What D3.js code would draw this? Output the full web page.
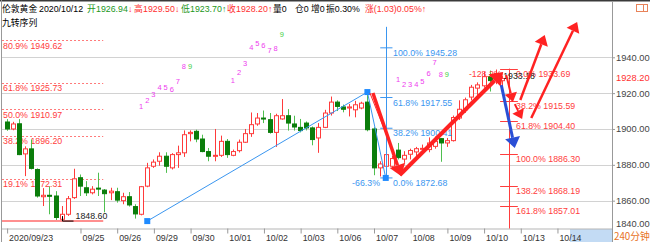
<!DOCTYPE html>
<html>
<head>
<meta charset="utf-8">
<script src="https://cdnjs.cloudflare.com/ajax/libs/d3/7.8.5/d3.min.js"></script>
<style>
body { margin: 0; background: #fff; }
svg text { font-family: "Liberation Sans", Arial, "Noto Sans CJK SC", sans-serif; }
</style>
</head>
<body>
<div id="chart"></div>
<script>
// 240 minute candles, index 0 = 2020/09/23
var opens  = [1903.9,1900,1902.9,1886.1,1888.9,1877.4,1862.2,1863,1862.6,1849.6,1852.4,1861.7,1872.8,1867.2,1864.4,1867,1865.9,1864.4,1865,1860,
              1862.2,1856.7,1852.4,1868.1,1879.2,1882,1884.8,1878.3,1885.7,1886.7,1897.4,1898.7,1894.4,1887.4,1885,1885.3,1893.1,1885.3,1887.9,1892.6,
              1897.4,1902.8,1906.1,1905.2,1898.1,1905.6,1907.4,1902.8,1900.9,1903.3,1900.6,1895,1900.9,1908.9,1915,1912.3,1911.7,1910.7,1911.7,1915,
              1900,1878.3,1879.2,1879.2,1888.2,1883.2,1885.9,1887.2,1888.7,1888.5,1890.3,1894.6,1892.2,1893.5,1906.1,1910.7,1917.8,1922.8,1924.1,1929.2,
              1927.5,1926.94];
var highs  = [1905.5,1904,1905.5,1890.3,1894.1,1878,1867,1868,1865.3,1857,1862.6,1877.8,1874.6,1870.9,1868.1,1875.6,1866.5,1867.2,1867.2,1864.4,
              1864.8,1858,1868.2,1881.1,1883,1887,1887,1886.5,1890.7,1899.2,1899.2,1899.6,1896.8,1889.4,1900,1896.3,1894.4,1888.5,1894.1,1900,
              1909.2,1908.9,1910.3,1908.9,1908.5,1916.7,1911.1,1907.4,1905.6,1904.2,1901.4,1903.3,1910.7,1918.1,1916,1913.6,1914,1915.7,1915.2,1920.6,
              1901,1882,1887,1885,1892.2,1887.6,1889,1890,1891.3,1895.3,1895.8,1895,1895,1907.5,1916,1917.5,1924.6,1926,1932,1932.6,
              1933.18,1929.5];
var lows   = [1899,1899.3,1885.4,1873.7,1877.4,1861.7,1857,1852.4,1849.2,1848.6,1851.5,1861,1862.6,1862.6,1863.5,1862.6,1853.5,1860.3,1858.9,1858,
              1856.7,1850,1851.8,1867.5,1878.3,1879.5,1875.5,1877.4,1878.3,1884.4,1893.1,1892.6,1887,1882,1882,1884.4,1883.9,1884.8,1886.9,1892.2,
              1895.6,1901.8,1903.3,1897.4,1890,1905.2,1899.1,1899.1,1898.1,1899.2,1890.9,1886.7,1900.5,1907.5,1910,1909.3,1907,1906.5,1911,1898.7,
              1874.2,1873.5,1872.68,1878,1883,1881.1,1883,1885,1885.7,1887,1889,1881.7,1890,1893,1905,1909,1916,1919,1923,1920.9,
              1925,1923.7];
var closes = [1900,1902.8,1885.7,1888.9,1878,1862.6,1863,1862.5,1850.6,1852.4,1861.1,1872.2,1868.1,1864.4,1866.4,1866.7,1863.9,1865.3,1860.3,1862.2,
              1857.6,1852.6,1867.8,1878.3,1881.5,1884.8,1879.2,1885.7,1886.7,1896.8,1898.1,1894.4,1887.4,1884.8,1885.3,1893.1,1885.7,1887.4,1892.6,1897.4,
              1902.4,1906.1,1905.6,1898.1,1907.4,1907.4,1903.3,1901.1,1899.1,1900.6,1894.1,1900.9,1908.9,1915,1912.6,1911,1912.3,1913.5,1914.4,1899.6,
              1878.3,1880.5,1885.7,1883.5,1884,1885.3,1888,1889,1889.2,1892.2,1893.1,1892.2,1893.5,1906.4,1911,1916.3,1923.3,1924.6,1929.2,1927,
              1931,1928.2];

var dateIdx    = [0,12,18,24,30,36,42,48,54,60,66,72,78,84,90];
var dateLabels = ["2020/09/23","09/25","09/26","09/29","09/30","10/01","10/02","10/03","10/06","10/07","10/08","10/09","10/10","10/13","10/14"];
var priceTicks = [1840,1860,1880,1900,1920,1940];

// fibonacci drawings
var leftFibPct  = ["19.1%","38.2%","50.0%","61.8%","80.9%"];
var leftFibVal  = [1872.31,1896.20,1910.97,1925.73,1949.62];
var leftFibLow  = 1848.60;
var blueFibPct  = ["100.0%","61.8%","38.2%","0.0%"];
var blueFibVal  = [1945.28,1917.55,1900.41,1872.68];
var redFibPct   = ["0.0%","38.2%","61.8%","100.0%","138.2%","161.8%"];
var redFibVal   = [1933.69,1915.59,1904.40,1886.30,1868.19,1857.01];
var markHigh    = 1933.18;

// TD sequential (九转序列): first candle index and level of each number
var tdStart  = [22, 37, 64];
var tdLevels = [[1912.8,1916,1919.4,1923.3,1923.3,1922.1,1926.4,1935.1,1934.8],
                [1927.4,1931.6,1936.4,1945.6,1947.8,1946.9,1944.1,1945,1953],
                [1927.9,1924.9,1924.9,1924.9,1926.4,1931.1,1937.2,1930.7,1930.7]];

// trend line anchors [candle index, price]
var blueSquares = [[23,1848.6],[59,1920.6],[62,1872.68]];
var redArrows = [
  {from:[59.9,1920.1], to:[64.5,1873.8], w:3.5},
  {from:[64.3,1874.3], to:[81.2,1931.8], w:4},
  {from:[81.7,1930.1], to:[82.8,1915.1], w:2},
  {from:[83.1,1913.9], to:[84.3,1905.6], w:2},
  {from:[84.0,1916.2], to:[88.0,1952.4], w:2.5},
  {from:[85.8,1906.1], to:[93.3,1959.7], w:2.5}
];
var blueArrow = {from:[80.9,1924.5], to:[83.1,1889.4], w:3};

var width = 650, height = 242;
var plotRight = 612, plotBottom = 228.5;
var fs = "8.8px";

var svg = d3.select("#chart").append("svg")
  .attr("width", width)
  .attr("height", height);

var x = d3.scaleLinear().domain([-1, 99]).range([0.5, plotRight]);
var y = d3.scaleLinear().domain([1840, 1940]).range([236.5, 57.3]);

var upColor = "#ff3b3b", downColor = "#0b7d0b", downWick = "#4fbf4f";
var fibRed = "#ff3d3d", fibBlue = "#3a96f0";

// frame
svg.append("rect").attr("x", 0).attr("y", 0).attr("width", width).attr("height", 1.5).attr("fill", "#3a3a3a");
svg.append("line").attr("x1", 1.5).attr("x2", 1.5).attr("y1", 0).attr("y2", height).attr("stroke", "#999");
svg.append("line").attr("x1", plotRight + 0.5).attr("x2", plotRight + 0.5).attr("y1", 1.5).attr("y2", height).attr("stroke", "#999");

// grid
svg.append("g").selectAll("line")
  .data(priceTicks.filter(function (d) { return y(d) < plotBottom; }))
  .enter().append("line")
  .attr("x1", 2).attr("x2", plotRight)
  .attr("y1", function (d) { return Math.round(y(d)) + 0.5; })
  .attr("y2", function (d) { return Math.round(y(d)) + 0.5; })
  .attr("stroke", "#d2d2d2");

// right price axis
var yAxis = d3.axisRight(y).tickValues(priceTicks).tickFormat(d3.format(".2f")).tickSize(3);
var yg = svg.append("g").attr("transform", "translate(" + plotRight + ",0)").call(yAxis);
yg.select(".domain").remove();
yg.selectAll("line").attr("stroke", "#999");
yg.selectAll("text").attr("x", 4).attr("fill", "#444").style("font-size", "9.3px");
yg.selectAll(".tick").filter(function (d) { return y(d) > plotBottom; })
  .attr("transform", "translate(0," + (plotBottom - 4) + ")")
  .select("line").remove();
svg.append("text")
  .attr("x", plotRight + 4).attr("y", y(closes[closes.length - 1])).attr("dy", "0.32em")
  .attr("fill", "#ff3030").style("font-size", "9.3px")
  .text(d3.format(".2f")(closes[closes.length - 1]));

// bottom date axis
svg.append("rect").attr("x", 570).attr("y", plotBottom + 0.5).attr("width", plotRight - 570).attr("height", height - plotBottom)
  .attr("fill", "#c3dbf4");
var xAxis = d3.axisBottom(x).tickValues(dateIdx).tickFormat(function (d, i) { return dateLabels[i]; }).tickSize(5);
var xg = svg.append("g").attr("transform", "translate(0," + plotBottom + ")").call(xAxis);
xg.select(".domain").attr("d", "M2,0.5H" + plotRight).attr("stroke", "#b5b5b5");
xg.selectAll("line").attr("stroke", "#999").attr("transform", "translate(0.5,0)");
xg.selectAll("text").attr("text-anchor", "start").attr("x", 2).attr("y", 6).attr("fill", "#333").style("font-size", fs);
svg.append("text").attr("x", 614).attr("y", 240).attr("fill", "#e8731e").style("font-size", "9.8px")
  .style("font-family", "'Noto Sans CJK SC', sans-serif").text("240分钟");

// left fibonacci
var lf = svg.append("g");
lf.selectAll("line").data(leftFibVal).enter().append("line")
  .attr("x1", x(-0.75)).attr("x2", x(15.8))
  .attr("y1", function (d) { return Math.round(y(d)) + 0.5; })
  .attr("y2", function (d) { return Math.round(y(d)) + 0.5; })
  .attr("stroke", "#ff7a7a").attr("stroke-dasharray", "2,2");
lf.selectAll("text").data(leftFibVal).enter().append("text")
  .attr("x", 3).attr("y", function (d) { return y(d) + 8.5; })
  .attr("fill", fibRed).style("font-size", fs)
  .text(function (d, i) { return leftFibPct[i] + " " + d3.format(".2f")(d); });
lf.append("line").attr("x1", x(-0.75)).attr("x2", x(15.8)).attr("y1", y(leftFibLow)).attr("y2", y(leftFibLow))
  .attr("stroke", "#ff8f8f").attr("stroke-width", 2);

// candles
var candles = svg.append("g");
d3.range(opens.length).forEach(function (i) {
  var up = closes[i] >= opens[i];
  var cx = Math.round(x(i)) + 0.5;
  candles.append("line")
    .attr("x1", cx).attr("x2", cx)
    .attr("y1", y(highs[i])).attr("y2", y(lows[i]))
    .attr("stroke", up ? upColor : downWick);
  var top = y(Math.max(opens[i], closes[i])), bot = y(Math.min(opens[i], closes[i]));
  candles.append("rect")
    .attr("x", cx - 2).attr("y", top)
    .attr("width", 4).attr("height", Math.max(1, bot - top))
    .attr("fill", up ? "#fff" : downColor)
    .attr("stroke", up ? upColor : downColor);
});

// low / high markers
var lowI = lows.indexOf(d3.min(lows.slice(0, 30)));
var lx = Math.round(x(lowI)) + 0.5;
svg.append("path").attr("d", "M" + lx + "," + (y(leftFibLow) - 5) + "V" + y(leftFibLow) + "H" + (lx + 11))
  .attr("fill", "none").attr("stroke", "#000");
svg.append("text").attr("x", lx + 13).attr("y", y(leftFibLow) - 2).attr("fill", "#222").style("font-size", fs)
  .text(d3.format(".2f")(leftFibLow));

// blue trend lines + fibonacci
var bf = svg.append("g");
bf.append("line")
  .attr("x1", x(blueSquares[0][0])).attr("y1", y(blueSquares[0][1]))
  .attr("x2", x(blueSquares[1][0])).attr("y2", y(blueSquares[1][1]))
  .attr("stroke", fibBlue);
bf.append("line")
  .attr("x1", x(blueSquares[1][0])).attr("y1", y(blueSquares[1][1]))
  .attr("x2", x(blueSquares[2][0])).attr("y2", y(blueSquares[2][1]))
  .attr("stroke", fibBlue);
var bvx = Math.round(x(62)) + 0.5;
bf.append("line").attr("x1", bvx).attr("x2", bvx).attr("y1", y(1957)).attr("y2", y(blueFibVal[3])).attr("stroke", fibBlue);
bf.selectAll(".tk").data(blueFibVal).enter().append("line")
  .attr("x1", x(61.1)).attr("x2", x(63.1))
  .attr("y1", function (d) { return y(d); }).attr("y2", function (d) { return y(d); })
  .attr("stroke", fibBlue);
bf.selectAll("text").data(blueFibVal).enter().append("text")
  .attr("x", x(63.2)).attr("y", function (d) { return y(d) + 8; })
  .attr("fill", fibBlue).style("font-size", fs)
  .text(function (d, i) { return blueFibPct[i] + " " + d3.format(".2f")(d); });
bf.append("text").attr("x", x(56.5)).attr("y", y(blueFibVal[3]) + 8).attr("fill", fibBlue).style("font-size", fs).text("-66.3%");

// red fibonacci (right)
var rf = svg.append("g");
var rvx = Math.round(x(82.16)) + 0.5;
rf.append("line").attr("x1", rvx).attr("x2", rvx).attr("y1", y(redFibVal[0])).attr("y2", plotBottom).attr("stroke", fibRed);
rf.selectAll(".tk").data(redFibVal).enter().append("line")
  .attr("x1", x(80.7)).attr("x2", x(83.6))
  .attr("y1", function (d) { return Math.round(y(d)) + 0.5; }).attr("y2", function (d) { return Math.round(y(d)) + 0.5; })
  .attr("stroke", fibRed);
rf.selectAll("text").data(redFibVal).enter().append("text")
  .attr("x", x(83.3)).attr("y", function (d) { return y(d) + 8; })
  .attr("fill", fibRed).style("font-size", fs)
  .text(function (d, i) { return redFibPct[i] + " " + d3.format(".2f")(d); });
rf.append("text").attr("x", x(75.6)).attr("y", y(redFibVal[0]) + 8).attr("fill", fibRed).style("font-size", fs).text("-128.2%");
svg.append("text").attr("x", x(81.2)).attr("y", y(markHigh) + 9).attr("fill", "#222").style("font-size", fs)
  .text(d3.format(".2f")(markHigh));

// TD sequential numbers
var td = svg.append("g");
tdStart.forEach(function (s, k) {
  tdLevels[k].forEach(function (v, j) {
    td.append("text")
      .attr("x", x(s + j)).attr("y", y(v)).attr("dy", "0.35em")
      .attr("text-anchor", "middle")
      .attr("fill", j == 8 ? "#3fd03f" : "#ee3cee")
      .style("font-size", "7.5px")
      .text(j + 1);
  });
});

// squares
svg.append("g").selectAll("rect").data(blueSquares).enter().append("rect")
  .attr("x", function (d) { return x(d[0]) - 3; }).attr("y", function (d) { return y(d[1]) - 3; })
  .attr("width", 6).attr("height", 6).attr("fill", "#1f8bff");

// arrows
function drawArrow(a, color) {
  var x0 = x(a.from[0]), y0 = y(a.from[1]), x1 = x(a.to[0]), y1 = y(a.to[1]);
  var dx = x1 - x0, dy = y1 - y0, len = Math.sqrt(dx * dx + dy * dy);
  var ux = dx / len, uy = dy / len;
  var hl = 6 + a.w * 1.5, hw = 4 + a.w * 1.2;
  var bx = x1 - ux * hl, by = y1 - uy * hl;
  svg.append("line").attr("x1", x0).attr("y1", y0).attr("x2", bx).attr("y2", by)
    .attr("stroke", color).attr("stroke-width", a.w);
  svg.append("polygon")
    .attr("points", [[x1, y1], [bx - uy * hw, by + ux * hw], [bx + uy * hw, by - ux * hw]].join(" "))
    .attr("fill", color);
}
// thin outline at the start of the first arrow
svg.append("line")
  .attr("x1", x(redArrows[0].from[0]) - 3).attr("y1", y(redArrows[0].from[1]))
  .attr("x2", x(63.6)).attr("y2", y(1884))
  .attr("stroke", "#ff2a2a").attr("stroke-width", 1);
redArrows.forEach(function (a) { drawArrow(a, "#ff2222"); });
drawArrow(blueArrow, "#2a4fd6");

// header
var last = opens.length - 1;
var fmt = d3.format(".2f");
var header = [
  ["伦敦黄金", 2, "#000"], ["2020/10/12", 39, "#000"],
  ["开", 87, "#1a961a"], [fmt(opens[last]), 96, "#1a961a"], ["↓", 128, "#ff3030"],
  ["高", 134, "#ff3030"], [fmt(highs[last]), 143, "#ff3030"], ["↓", 175, "#ff3030"],
  ["低", 181, "#1a961a"], [fmt(lows[last]), 190, "#1a961a"], ["↑", 222, "#1a961a"],
  ["收", 227, "#ff3030"], [fmt(closes[last]), 236, "#ff3030"], ["↑", 268, "#ff3030"],
  ["量0", 273, "#000"], ["仓0", 295, "#000"], ["增0", 311, "#000"], ["振0.30%", 326, "#000"],
  ["涨(1.03)0.05%↑", 365, "#ff3030"]
];
svg.append("g").selectAll("text").data(header).enter().append("text")
  .attr("x", function (d) { return d[1]; }).attr("y", 11.5)
  .attr("fill", function (d) { return d[2]; })
  .style("font-size", fs)
  .style("font-family", "'Liberation Sans', 'Noto Sans CJK SC', sans-serif")
  .text(function (d) { return d[0]; });
svg.append("text").attr("x", 2).attr("y", 26).style("font-size", fs)
  .style("font-family", "'Noto Sans CJK SC', sans-serif").text("九转序列");

// restore icon top right
svg.append("rect").attr("x", 636.5).attr("y", 4.5).attr("width", 11).attr("height", 7).attr("fill", "none").attr("stroke", "#e8835a");
svg.append("line").attr("x1", 643.5).attr("x2", 643.5).attr("y1", 4.5).attr("y2", 11.5).attr("stroke", "#e8835a");
</script>
</body>
</html>
